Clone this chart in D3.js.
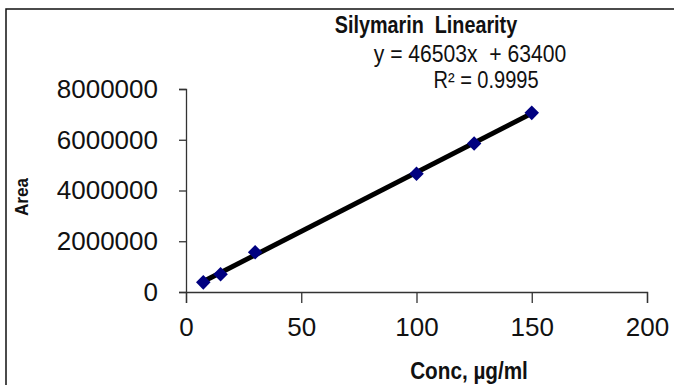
<!DOCTYPE html>
<html>
<head>
<meta charset="utf-8">
<script src="https://cdn.jsdelivr.net/npm/d3@7"></script>
<style>
    body { margin: 0; background: #fff; }
    svg { display: block; }
    text { font-family: "Liberation Sans", Arial, sans-serif; }
</style>
</head>
<body>
<div id="chart"></div>
<script>
// data
var concValues = [7.5, 15, 30, 100, 125, 150];
var areaValues = [380000, 700000, 1570000, 4660000, 5850000, 7060000];
var xTicks = [0, 50, 100, 150, 200];
var yTicks = [0, 2000000, 4000000, 6000000, 8000000];

// trendline from the chart label
var slope = 46503;
var intercept = 63400;
var rSquared = "0.9995";

var svgWidth = 674;
var svgHeight = 385;

var svg = d3.select("#chart")
    .append("svg")
    .attr("width", svgWidth)
    .attr("height", svgHeight);

// chart border (runs off the right and bottom edge)
svg.append("rect")
    .attr("x", 6)
    .attr("y", 9)
    .attr("width", 700)
    .attr("height", 400)
    .attr("fill", "none")
    .attr("stroke", "#111")
    .attr("stroke-width", 1.5);

var xScale = d3.scaleLinear()
    .domain([0, 200])
    .range([186, 647]);

var yScale = d3.scaleLinear()
    .domain([0, 8000000])
    .range([292, 89]);

// axes
svg.append("g")
    .attr("transform", `translate(0, ${yScale(0)})`)
    .call(d3.axisBottom(xScale).tickValues(xTicks).tickSize(11).tickPadding(15));

svg.append("g")
    .attr("transform", `translate(${xScale(0)}, 0)`)
    .call(d3.axisLeft(yScale).tickValues(yTicks).tickSize(7).tickPadding(21).tickFormat(d3.format("d")));

svg.selectAll(".tick text")
    .attr("font-family", "'Liberation Sans', Arial, sans-serif")
    .attr("font-size", "26px")
    .attr("fill", "#111");

svg.selectAll(".domain, .tick line")
    .attr("stroke", "#333")
    .attr("stroke-width", 1.3);

// trendline
var x0 = concValues[0];
var x1 = concValues[concValues.length - 1];
svg.append("line")
    .attr("x1", xScale(x0))
    .attr("y1", yScale(slope * x0 + intercept))
    .attr("x2", xScale(x1))
    .attr("y2", yScale(slope * x1 + intercept))
    .attr("stroke", "#000")
    .attr("stroke-width", 5);

// points (diamonds)
var points = concValues.map((c, i) => ({ conc: c, area: areaValues[i] }));
svg.selectAll(".pt")
    .data(points)
    .enter()
    .append("path")
    .attr("class", "pt")
    .attr("d", d3.symbol().type(d3.symbolDiamond2).size(135))
    .attr("transform", d => `translate(${xScale(d.conc)}, ${yScale(d.area)})`)
    .attr("fill", "#000080");

// narrow looking text: squeeze Liberation Sans horizontally
function narrowText(x, y, sx, size, weight, str) {
    return svg.append("g")
        .attr("transform", `translate(${x}, ${y}) scale(${sx}, 1)`)
        .append("text")
        .attr("text-anchor", "middle")
        .attr("font-size", size)
        .attr("font-weight", weight)
        .attr("fill", "#111")
        .style("white-space", "pre")
        .text(str);
}

// title and trendline label
narrowText(426, 33, 0.86, "23px", "bold", "Silymarin  Linearity");
narrowText(470, 61.5, 0.88, "24px", "normal", `y = ${slope}x  + ${intercept}`);
narrowText(486, 87.5, 0.87, "23px", "normal", `R² = ${rSquared}`);

// axis titles
narrowText(469, 379, 0.9, "23px", "bold", "Conc, µg/ml");

svg.append("g")
    .attr("transform", "translate(28, 197) rotate(-90) scale(0.9, 1)")
    .append("text")
    .attr("text-anchor", "middle")
    .attr("font-size", "19px")
    .attr("font-weight", "bold")
    .attr("fill", "#111")
    .text("Area");
</script>
</body>
</html>
